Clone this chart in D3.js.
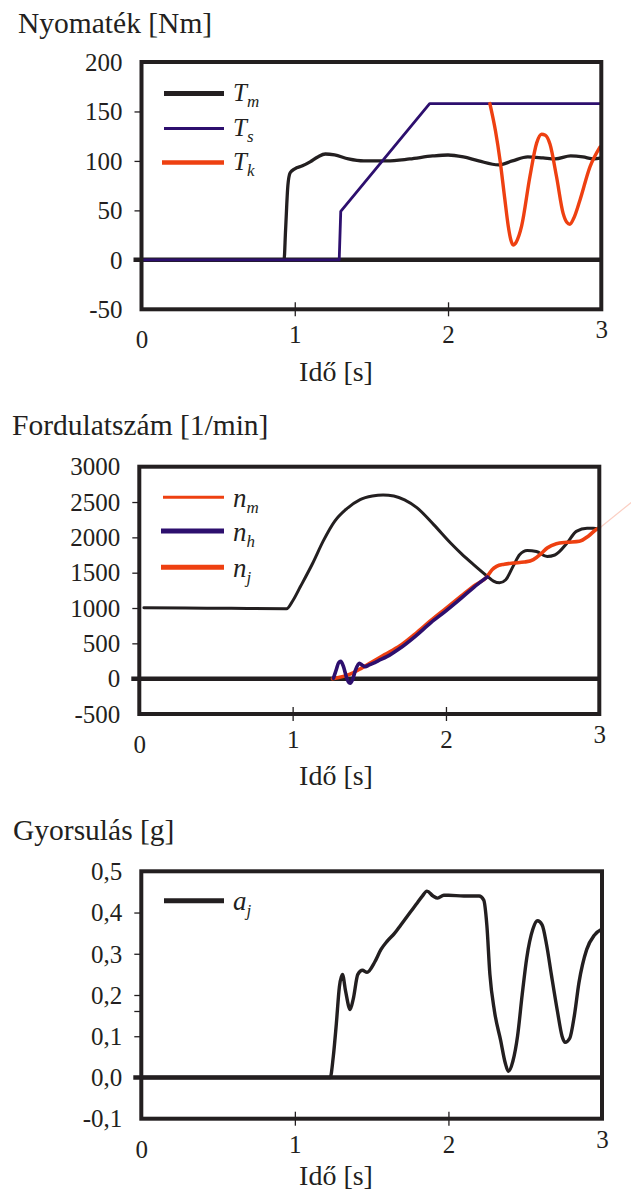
<!DOCTYPE html>
<html>
<head>
<meta charset="utf-8">
<script src="https://cdn.jsdelivr.net/npm/d3@7"></script>
<style>
  body { margin: 0; background: #fff; }
  svg { display: block; }
  svg text { font-family: "Liberation Serif", "Tinos", "Times New Roman", "Times", "Nimbus Roman", "DejaVu Serif", serif; }
</style>
</head>
<body>
<script>
// tick values / labels
var timeTicks = [0, 1, 2, 3];
var torqueTicks = [-50, 0, 50, 100, 150, 200];
var speedTicks = [-500, 0, 500, 1000, 1500, 2000, 2500, 3000];
var accelTicks = [-0.1, 0, 0.1, 0.2, 0.3, 0.4, 0.5];

// Nyomaték [Nm]  -- [t (s), value]
var torqueM = [[0,0],[0.93,0],[0.94,30],[0.955,75],[0.97,88],[1.0,92],[1.05,95],[1.1,99],[1.15,104],[1.2,107],
  [1.26,106],[1.35,102],[1.45,100],[1.6,100],[1.75,102],[1.9,105],[2.0,106],[2.1,104],[2.2,100],[2.33,96],
  [2.42,100],[2.52,104],[2.62,103],[2.7,102],[2.8,105],[2.88,104],[2.95,102],[3,103]];
var torqueS = [[0,0],[1.29,0],[1.30,49],[1.88,158],[3,158]];
var torqueK = [[2.273,158],[2.31,130],[2.339,101],[2.37,62],[2.393,34],[2.41,20],[2.425,15],[2.445,18],[2.48,34],
  [2.534,84],[2.578,118],[2.61,127],[2.635,126],[2.665,117],[2.708,84],[2.751,47],[2.775,38],[2.795,36],
  [2.82,42],[2.86,60],[2.926,94],[2.991,114]];

// Fordulatszám [1/min]
var speedMotor = [[0.03,1005],[0.3,1000],[0.6,995],[0.96,990],[1.0,1100],[1.05,1300],[1.13,1630],[1.2,1950],
  [1.275,2230],[1.35,2400],[1.44,2535],[1.52,2585],[1.59,2600],[1.66,2585],[1.73,2530],[1.81,2420],[1.92,2180],
  [2.03,1920],[2.1,1770],[2.18,1615],[2.27,1449],[2.31,1380],[2.35,1356],[2.39,1400],[2.44,1600],[2.48,1755],
  [2.53,1815],[2.59,1800],[2.66,1730],[2.71,1750],[2.79,1920],[2.85,2085],[2.92,2130],[2.96,2130],[3.0,2110]];
var speedM = [[3.0,2130],[3.206,2490]];
var speedH = [[1.266,6],[1.285,130],[1.3,225],[1.314,245],[1.33,180],[1.35,30],[1.365,-50],[1.375,-65],[1.39,-20],
  [1.41,120],[1.435,218],[1.455,190],[1.473,170],[1.5,195],[1.527,220],[1.56,255],[1.614,311],[1.7,430],
  [1.8,600],[1.9,790],[2.0,960],[2.1,1140],[2.18,1290],[2.27,1440]];
var speedJ = [[1.26,0],[1.3,15],[1.37,60],[1.45,150],[1.52,240],[1.6,340],[1.7,465],[1.8,635],[1.9,820],
  [2.0,995],[2.1,1170],[2.18,1310],[2.27,1449],[2.3,1540],[2.33,1590],[2.38,1620],[2.44,1637],[2.51,1650],
  [2.57,1685],[2.62,1770],[2.66,1850],[2.72,1910],[2.79,1930],[2.87,1945],[2.93,2020],[2.98,2110],[3.0,2135]];

// Gyorsulás [g]
var accelJ = [[0,0],[1.23,0],[1.25,0.05],[1.27,0.13],[1.29,0.22],[1.31,0.25],[1.33,0.21],[1.36,0.165],[1.38,0.19],
  [1.41,0.25],[1.44,0.26],[1.47,0.255],[1.52,0.28],[1.56,0.31],[1.6,0.33],[1.65,0.35],[1.69,0.37],[1.75,0.4],
  [1.79,0.42],[1.83,0.44],[1.86,0.452],[1.9,0.44],[1.93,0.435],[1.97,0.442],[2.0,0.442],[2.1,0.44],[2.2,0.44],
  [2.23,0.43],[2.25,0.37],[2.27,0.25],[2.3,0.16],[2.34,0.09],[2.37,0.035],[2.39,0.015],[2.42,0.04],[2.45,0.1],
  [2.48,0.2],[2.51,0.29],[2.55,0.36],[2.58,0.38],[2.61,0.37],[2.64,0.32],[2.67,0.25],[2.71,0.16],[2.74,0.1],
  [2.76,0.085],[2.79,0.095],[2.82,0.15],[2.85,0.23],[2.9,0.31],[2.95,0.345],[3,0.36]];

var ink = "#231f20", purple = "#2d0f6e", orange = "#ee4011";

var svg = d3.select("body").append("svg")
    .attr("width", 631)
    .attr("height", 1192);

// label drop below the box for 0,1,2,3 (baseline)
var xLabelDrop = [39, 34, 34, 29];

function panel(p) {
  var g = svg.append("g");
  var x = d3.scaleLinear().domain([0, 3]).range([p.left, p.right]);
  var y = d3.scaleLinear().domain(p.yDomain).range([p.bottom, p.top]);
  var lo = p.yDomain[0], hi = p.yDomain[1];

  // title
  g.append("text")
      .attr("x", p.titleX).attr("y", p.titleY)
      .attr("font-size", 29.5).attr("fill", ink)
      .text(p.title);

  // y axis
  var ya = g.append("g")
      .attr("transform", "translate(" + p.left + ",0)")
      .call(d3.axisLeft(y).tickValues(p.yTicks).tickSize(7).tickPadding(12).tickFormat(p.fmt));
  ya.attr("font-family", null);
  ya.select(".domain").remove();
  ya.selectAll(".tick line").attr("stroke", ink).attr("stroke-width", 1.3)
      .filter(function(d) { return d === lo || d === hi || d === 0; }).remove();
  ya.selectAll(".tick text")
      .attr("font-size", 25).attr("fill", ink)
      .attr("dy", "0.33em");
  if (p.extraTick != null) {
    ya.append("line").attr("x1", -7).attr("x2", 0)
        .attr("y1", y(p.extraTick)).attr("y2", y(p.extraTick))
        .attr("stroke", ink).attr("stroke-width", 1.3);
  }

  // x axis
  var xa = g.append("g")
      .attr("transform", "translate(0," + p.bottom + ")")
      .call(d3.axisBottom(x).tickValues(timeTicks).tickSize(7).tickFormat(d3.format("d")));
  xa.attr("font-family", null);
  xa.select(".domain").remove();
  xa.selectAll(".tick line").attr("y1", -7).attr("y2", 7)
      .attr("stroke", ink).attr("stroke-width", 1.3)
      .filter(function(d) { return d === 0 || d === 3; }).remove();
  xa.selectAll(".tick text")
      .attr("font-size", 25).attr("fill", ink)
      .attr("dy", 0)
      .attr("y", function(d, i) { return xLabelDrop[i]; });

  g.append("text")
      .attr("x", 336).attr("y", p.xLabelY)
      .attr("text-anchor", "middle")
      .attr("font-size", 28).attr("fill", ink)
      .text("Idő [s]");

  // zero line
  g.append("line")
      .attr("x1", p.left - 8).attr("x2", p.right)
      .attr("y1", y(0)).attr("y2", y(0))
      .attr("stroke", ink).attr("stroke-width", 4.5);

  // series
  p.series.forEach(function(s) {
    var line = d3.line()
        .x(function(d) { return x(d[0]); })
        .y(function(d) { return y(d[1]); })
        .curve(s.linear ? d3.curveLinear : d3.curveMonotoneX);
    g.append("path")
        .datum(s.data)
        .attr("fill", "none")
        .attr("stroke", s.color)
        .attr("stroke-width", s.width)
        .attr("stroke-opacity", s.opacity || 1)
        .attr("stroke-linejoin", "round")
        .attr("stroke-linecap", "round")
        .attr("d", line);
  });

  // frame
  g.append("rect")
      .attr("x", p.left).attr("y", p.top)
      .attr("width", p.right - p.left).attr("height", p.bottom - p.top)
      .attr("fill", "none").attr("stroke", ink).attr("stroke-width", 4);

  // legend
  p.legend.forEach(function(l, i) {
    var ly = p.legendY[i];
    g.append("line")
        .attr("x1", l.x1).attr("x2", 224)
        .attr("y1", ly).attr("y2", ly)
        .attr("stroke", l.color).attr("stroke-width", l.width);
    var t = g.append("text")
        .attr("x", 233).attr("y", ly + p.legendDy)
        .attr("font-style", "italic")
        .attr("font-size", p.legendSize).attr("fill", ink);
    t.append("tspan").text(l.main);
    t.append("tspan").attr("dy", 6).attr("font-size", 17).text(l.sub);
  });
}

panel({
  title: "Nyomaték [Nm]", titleX: 18, titleY: 33, xLabelY: 381,
  left: 141.5, right: 601.3, top: 62, bottom: 309.3,
  yDomain: [-50, 200], yTicks: torqueTicks,
  fmt: function(d) { return String(d); },
  series: [
    {data: torqueM, color: ink, width: 3.3},
    {data: torqueS, color: purple, width: 2.8, linear: true},
    {data: torqueK, color: orange, width: 3.4}
  ],
  legendY: [93.5, 128.5, 162.5], legendDy: 7, legendSize: 25,
  legend: [
    {main: "T", sub: "m", color: ink, width: 5, x1: 164},
    {main: "T", sub: "s", color: purple, width: 3, x1: 164},
    {main: "T", sub: "k", color: orange, width: 4.5, x1: 162}
  ]
});

panel({
  title: "Fordulatszám [1/min]", titleX: 12, titleY: 435, xLabelY: 785,
  left: 139.3, right: 599.3, top: 466.7, bottom: 714,
  yDomain: [-500, 3000], yTicks: speedTicks,
  fmt: function(d) { return String(d); },
  series: [
    {data: speedMotor, color: ink, width: 3},
    {data: speedM, color: orange, width: 1.2, opacity: 0.25, linear: true},
    {data: speedJ, color: orange, width: 3.6},
    {data: speedH, color: purple, width: 3.6}
  ],
  legendY: [497.3, 531, 567.3], legendDy: 10, legendSize: 27,
  legend: [
    {main: "n", sub: "m", color: orange, width: 3, x1: 163},
    {main: "n", sub: "h", color: purple, width: 5, x1: 161},
    {main: "n", sub: "j", color: orange, width: 5, x1: 161}
  ]
});

panel({
  title: "Gyorsulás [g]", titleX: 13, titleY: 840, xLabelY: 1185,
  left: 141.3, right: 602, top: 871.3, bottom: 1118.7,
  yDomain: [-0.1, 0.5], yTicks: accelTicks, extraTick: 0.16,
  fmt: function(d) { return d.toFixed(1).replace(".", ","); },
  series: [
    {data: accelJ, color: ink, width: 3.4}
  ],
  legendY: [900.7], legendDy: 9, legendSize: 27,
  legend: [
    {main: "a", sub: "j", color: ink, width: 5, x1: 164}
  ]
});
</script>
</body>
</html>
